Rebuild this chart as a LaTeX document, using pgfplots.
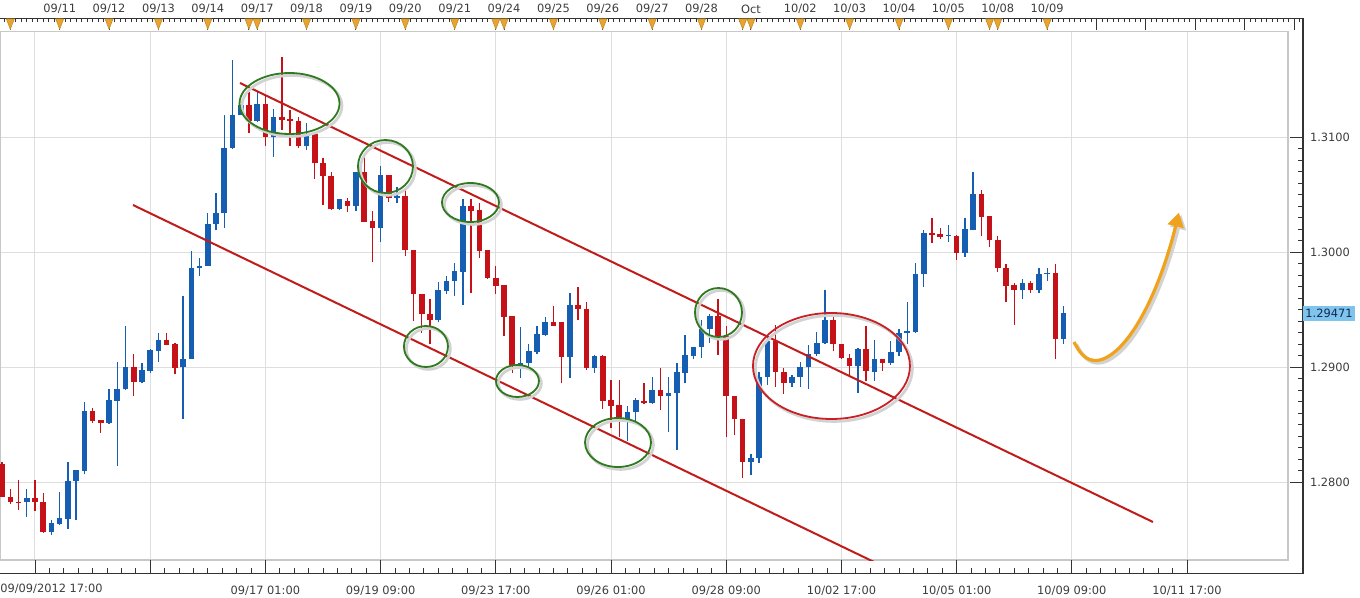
\documentclass[border=0pt]{standalone}
\usepackage{fontspec}
\setmainfont{DejaVu Sans}
\usepackage{pgfplots}
\usepackage{pgfplotstable}
\pgfplotsset{compat=1.18}
\usetikzlibrary{arrows.meta}

\definecolor{cup}{RGB}{22,94,178}
\definecolor{cdn}{RGB}{196,18,24}
\definecolor{trend}{RGB}{192,28,28}
\definecolor{ell}{RGB}{46,122,30}
\definecolor{ellred}{RGB}{200,32,36}
\definecolor{arr}{RGB}{240,162,28}
\definecolor{tri}{RGB}{232,164,48}
\definecolor{gridc}{RGB}{222,222,222}
\definecolor{borderc}{RGB}{200,200,200}
\definecolor{txt}{RGB}{60,60,60}
\definecolor{lastbg}{RGB}{126,196,236}
\definecolor{lasttx}{RGB}{20,40,80}

\pgfplotstableread{
i O H L C
-4 1.2816 1.2818 1.2787 1.2787
-3 1.2787 1.2794 1.2781 1.2783
-2 1.2783 1.2802 1.2776 1.2782
0 1.2786 1.2802 1.2775 1.2783
1 1.2783 1.2791 1.2756 1.2757
7 1.2862 1.2865 1.2852 1.2853
8 1.2854 1.2854 1.2843 1.2852
12 1.2900 1.2912 1.2875 1.2887
16 1.2924 1.2930 1.2919 1.2919
17 1.2920 1.2921 1.2894 1.2899
26 1.3128 1.3139 1.3104 1.3114
28 1.3129 1.3137 1.3092 1.3100
30 1.3118 1.3170 1.3106 1.3115
31 1.3116 1.3124 1.3092 1.3114
32 1.3114 1.3118 1.3091 1.3092
34 1.3103 1.3103 1.3064 1.3078
35 1.3078 1.3082 1.3041 1.3066
36 1.3066 1.3070 1.3037 1.3038
38 1.3045 1.3047 1.3035 1.3040
40 1.3070 1.3083 1.3026 1.3026
41 1.3027 1.3036 1.2992 1.3021
43 1.3067 1.3067 1.3044 1.3047
45 1.3049 1.3054 1.2997 1.3002
46 1.3002 1.3002 1.2940 1.2964
47 1.2964 1.2964 1.2930 1.2946
48 1.2946 1.2959 1.2920 1.2941
53 1.3040 1.3046 1.2965 1.3036
54 1.3037 1.3043 1.2995 1.3001
55 1.3002 1.3002 1.2977 1.2978
56 1.2978 1.2988 1.2964 1.2971
57 1.2972 1.2972 1.2927 1.2944
58 1.2945 1.2945 1.2895 1.2902
63 1.2939 1.2953 1.2936 1.2936
64 1.2939 1.2939 1.2886 1.2909
66 1.2954 1.2970 1.2941 1.2951
67 1.2951 1.2957 1.2898 1.2899
69 1.2910 1.2911 1.2864 1.2871
70 1.2872 1.2889 1.2847 1.2866
71 1.2867 1.2889 1.2839 1.2856
74 1.2871 1.2886 1.2868 1.2869
76 1.2880 1.2899 1.2863 1.2875
83 1.2945 1.2959 1.2911 1.2927
84 1.2927 1.2936 1.2839 1.2875
85 1.2875 1.2875 1.2841 1.2855
86 1.2855 1.2855 1.2804 1.2818
90 1.2923 1.2937 1.2883 1.2896
91 1.2896 1.2899 1.2877 1.2886
97 1.2941 1.2946 1.2914 1.2920
98 1.2920 1.2920 1.2907 1.2908
99 1.2908 1.2912 1.2892 1.2901
101 1.2916 1.2936 1.2888 1.2897
103 1.2907 1.2907 1.2897 1.2904
109 1.3017 1.3030 1.3008 1.3015
110 1.3016 1.3021 1.3012 1.3013
112 1.3014 1.3015 1.2993 1.2999
115 1.3051 1.3054 1.3014 1.3031
116 1.3032 1.3032 1.3005 1.3011
117 1.3011 1.3014 1.2983 1.2986
118 1.2986 1.2990 1.2957 1.2971
119 1.2972 1.2973 1.2937 1.2967
121 1.2973 1.2975 1.2965 1.2967
124 1.2982 1.2990 1.2907 1.2925
}\down

\pgfplotstableread{
i O H L C
-1 1.2783 1.2794 1.2770 1.2786
2 1.2757 1.2767 1.2754 1.2765
3 1.2764 1.2792 1.2763 1.2769
4 1.2768 1.2818 1.2759 1.2801
5 1.2801 1.2811 1.2767 1.2811
6 1.2810 1.2870 1.2807 1.2862
9 1.2852 1.2881 1.2851 1.2872
10 1.2871 1.2905 1.2814 1.2881
11 1.2881 1.2936 1.2880 1.2900
13 1.2887 1.2904 1.2886 1.2898
14 1.2897 1.2916 1.2895 1.2915
15 1.2914 1.2930 1.2905 1.2924
18 1.2900 1.2962 1.2855 1.2907
19 1.2907 1.3001 1.2907 1.2986
20 1.2986 1.2995 1.2979 1.2988
21 1.2988 1.3034 1.2988 1.3025
22 1.3025 1.3052 1.3019 1.3034
23 1.3034 1.3119 1.3021 1.3091
24 1.3091 1.3167 1.3090 1.3119
25 1.3119 1.3128 1.3119 1.3128
27 1.3114 1.3139 1.3113 1.3129
29 1.3100 1.3125 1.3083 1.3118
33 1.3092 1.3112 1.3089 1.3103
37 1.3038 1.3046 1.3037 1.3046
39 1.3040 1.3070 1.3036 1.3070
42 1.3021 1.3075 1.3009 1.3067
44 1.3047 1.3057 1.3043 1.3049
49 1.2941 1.2974 1.2939 1.2967
50 1.2966 1.2979 1.2964 1.2975
51 1.2975 1.2991 1.2962 1.2984
52 1.2983 1.3046 1.2954 1.3040
59 1.2902 1.2935 1.2891 1.2904
60 1.2904 1.2920 1.2898 1.2914
61 1.2913 1.2936 1.2912 1.2929
62 1.2928 1.2944 1.2927 1.2939
65 1.2909 1.2965 1.2891 1.2954
68 1.2899 1.2911 1.2895 1.2910
72 1.2855 1.2866 1.2836 1.2861
73 1.2861 1.2873 1.2853 1.2872
75 1.2869 1.2892 1.2868 1.2880
77 1.2875 1.2892 1.2844 1.2878
78 1.2878 1.2904 1.2828 1.2896
79 1.2895 1.2928 1.2886 1.2911
80 1.2910 1.2918 1.2907 1.2918
81 1.2918 1.2941 1.2908 1.2933
82 1.2933 1.2946 1.2921 1.2945
87 1.2818 1.2825 1.2806 1.2821
88 1.2821 1.2896 1.2817 1.2892
89 1.2892 1.2926 1.2885 1.2923
92 1.2886 1.2893 1.2883 1.2892
93 1.2892 1.2905 1.2883 1.2900
94 1.2900 1.2919 1.2881 1.2912
95 1.2912 1.2931 1.2910 1.2921
96 1.2921 1.2967 1.2920 1.2941
100 1.2901 1.2917 1.2878 1.2916
102 1.2896 1.2924 1.2888 1.2907
104 1.2904 1.2923 1.2902 1.2913
105 1.2913 1.2933 1.2910 1.2930
106 1.2930 1.2957 1.2920 1.2932
107 1.2931 1.2991 1.2930 1.2981
108 1.2981 1.3019 1.2970 1.3017
111 1.3014 1.3024 1.3009 1.3015
113 1.2999 1.3030 1.2996 1.3020
114 1.3019 1.3070 1.3019 1.3051
120 1.2967 1.2977 1.2959 1.2973
122 1.2967 1.2986 1.2965 1.2981
123 1.2981 1.2986 1.2975 1.2982
125 1.2925 1.2953 1.2920 1.29471
}\up

\newcommand\tf{\fontsize{5.7}{6.5}\selectfont}

\begin{document}
\begin{tikzpicture}
\path[use as bounding box] (0,0) rectangle (680pt,-299pt);

% inner plot area: grid, candles, annotations
\begin{axis}[at={(0pt,-15.85pt)}, anchor=north west, scale only axis,
  width=644pt, height=264.15pt,
  xmin=-4.2533, xmax=152.27, ymin=1.273243, ymax=1.319183,
  xtick={0,14,...,140}, ytick={1.28,1.29,1.30,1.31},
  xticklabels={}, yticklabels={}, major tick length=0pt,
  grid=major, grid style={gridc, line width=0.5pt},
  axis line style={borderc, line width=0.8pt}]
  \addplot[cdn, line width=0.65pt, -, quiver={u=0, v=\thisrow{H}-\thisrow{L}}] table[x=i, y=L] {\down};
  \addplot[cdn, line width=2.8pt, -, quiver={u=0, v=\thisrow{C}-\thisrow{O}}] table[x=i, y=O] {\down};
  \addplot[cup, line width=0.65pt, -, quiver={u=0, v=\thisrow{H}-\thisrow{L}}] table[x=i, y=L] {\up};
  \addplot[cup, line width=2.8pt, -, quiver={u=0, v=\thisrow{C}-\thisrow{O}}] table[x=i, y=O] {\up};
  % channel lines
  \addplot[trend, line width=1pt] coordinates {(24.91,1.314722) (135.86,1.276548)};
  \addplot[trend, line width=1pt] coordinates {(11.91,1.304113) (103,1.272716)};
  % ellipses with soft shadows
  \begin{scope}[gray!35, line width=1.4pt, shift={(1.2pt,-1.2pt)}]
    \draw (axis cs:30.93,1.312939) ellipse [x radius=25pt, y radius=15.25pt];
    \draw (axis cs:42.59,1.307461) ellipse [x radius=13.75pt, y radius=13.25pt];
    \draw (axis cs:52.92,1.304330) ellipse [x radius=14.25pt, y radius=9.75pt];
    \draw (axis cs:47.51,1.291809) ellipse [x radius=11pt, y radius=10.25pt];
    \draw (axis cs:58.63,1.288809) ellipse [x radius=10.75pt, y radius=8pt];
    \draw (axis cs:70.85,1.283461) ellipse [x radius=16.5pt, y radius=12.25pt];
    \draw (axis cs:83.06,1.294765) ellipse [x radius=11.75pt, y radius=12.25pt];
    \draw (axis cs:96.79,1.290113) ellipse [x radius=39.25pt, y radius=26.5pt];
  \end{scope}
  \begin{scope}[ell, line width=0.9pt]
    \draw (axis cs:30.93,1.312939) ellipse [x radius=25pt, y radius=15.25pt];
    \draw (axis cs:42.59,1.307461) ellipse [x radius=13.75pt, y radius=13.25pt];
    \draw (axis cs:52.92,1.304330) ellipse [x radius=14.25pt, y radius=9.75pt];
    \draw (axis cs:47.51,1.291809) ellipse [x radius=11pt, y radius=10.25pt];
    \draw (axis cs:58.63,1.288809) ellipse [x radius=10.75pt, y radius=8pt];
    \draw (axis cs:70.85,1.283461) ellipse [x radius=16.5pt, y radius=12.25pt];
    \draw (axis cs:83.06,1.294765) ellipse [x radius=11.75pt, y radius=12.25pt];
  \end{scope}
  \draw[ellred, line width=0.9pt] (axis cs:96.79,1.290113) ellipse [x radius=39.25pt, y radius=26.5pt];
  % orange arrow
  \draw[gray!35, line width=1.8pt, shift={(1.2pt,-1.2pt)}, -{Triangle[length=7pt,width=8pt]}]
    (axis cs:126.26,1.2922) .. controls (axis cs:127.23,1.290809) and (axis cs:128.20,1.290461) .. (axis cs:129.42,1.290635)
    .. controls (axis cs:133.07,1.291330) and (axis cs:136.71,1.296722) .. (axis cs:139.02,1.303452);
  \draw[arr, line width=1.6pt, -{Triangle[length=7pt,width=8pt]}]
    (axis cs:126.26,1.2922) .. controls (axis cs:127.23,1.290809) and (axis cs:128.20,1.290461) .. (axis cs:129.42,1.290635)
    .. controls (axis cs:133.07,1.291330) and (axis cs:136.71,1.296722) .. (axis cs:139.02,1.303452);
\end{axis}

% outer frame: bottom time axis and right price axis
\begin{axis}[at={(0pt,-9.15pt)}, anchor=north west, scale only axis,
  width=651.5pt, height=277.5pt,
  xmin=-4.2533, xmax=154.09, ymin=1.272087, ymax=1.320348,
  axis line style={draw=none}, clip=false,
  xtick={0,14,...,140}, xtick pos=left, xticklabel pos=left,
  xticklabels={{},{},09/17 01:00,09/19 09:00,09/23 17:00,09/26 01:00,09/28 09:00,10/02 17:00,10/05 01:00,10/09 09:00,10/11 17:00},
  minor x tick num=7,
  ytick={1.28,1.29,1.30,1.31}, ytick pos=right, yticklabel pos=right, minor y tick num=9,
  tick align=inside, major tick length=6.5pt, minor tick length=2.5pt,
  tick style={black!80, line width=0.5pt},
  /pgf/number format/.cd, fixed, fixed zerofill, precision=4, assume math mode=true, /pgfplots/.cd,
  tick label style={font=\tf, text=txt},
  xticklabel style={yshift=-3pt}, yticklabel style={xshift=0pt}]
  \draw[black!80, line width=0.6pt] (rel axis cs:0,1) -- (rel axis cs:1,1) -- (rel axis cs:1,0) -- (rel axis cs:0,0);
  \node[anchor=north west, font=\tf, text=txt, inner sep=0pt, yshift=-5pt] at (rel axis cs:0,0) {09/09/2012 17:00};
  \node[anchor=west, fill=lastbg, text=lasttx, font=\tf, inner xsep=1pt, inner ysep=0pt, minimum height=7.5pt] at (axis cs:154.09,1.29471) {1.29471};
\end{axis}

% outer frame: top date axis with day markers
\begin{axis}[at={(0pt,-9.15pt)}, anchor=north west, scale only axis,
  width=651.5pt, height=277.5pt,
  xmin=-4.2533, xmax=154.09, ymin=1.272087, ymax=1.320348,
  axis line style={draw=none}, clip=false, ytick=\empty,
  xtick pos=right, xticklabel pos=right,
  xtick={-3,3,9,15,21,26,27,33,39,45,51,56,57,63,69,75,81,86,87,93,99,105,111,116,117,123,129,135,141,147,153},
  xticklabels={{},09/11,09/12,09/13,09/14,{},09/17,09/18,09/19,09/20,09/21,{},09/24,09/25,09/26,09/27,09/28,{},Oct,10/02,10/03,10/04,10/05,{},10/08,10/09,{},{},{},{},{}},
  minor xtick={-3.6667,-3,...,154},
  tick align=inside, major tick length=6pt, minor tick length=2pt,
  tick style={black!80, line width=0.5pt},
  tick label style={font=\tf, text=txt}, xticklabel style={yshift=-1.4pt}]
  \addplot[only marks, mark=triangle*, mark size=2.3pt,
    mark options={rotate=180, yscale=1.5, fill=tri, draw=tri!85!black, line width=0.3pt}]
    coordinates {(-3,1.32) (3,1.32) (9,1.32) (15,1.32) (21,1.32) (26,1.32) (27,1.32) (33,1.32) (39,1.32) (45,1.32) (51,1.32) (56,1.32) (57,1.32) (63,1.32) (69,1.32) (75,1.32) (81,1.32) (86,1.32) (87,1.32) (93,1.32) (99,1.32) (105,1.32) (111,1.32) (116,1.32) (117,1.32) (123,1.32)};
\end{axis}
\end{tikzpicture}
\end{document}
